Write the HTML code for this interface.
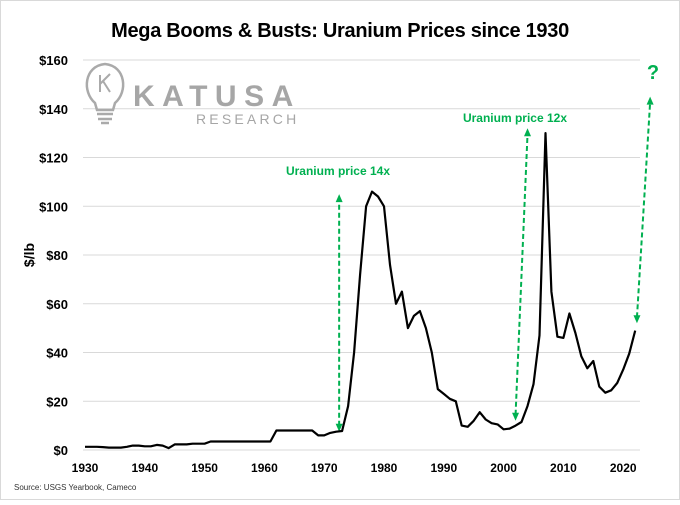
<!DOCTYPE html>
<html><head><meta charset="utf-8"><style>
body{margin:0;background:#fff;}
svg text{font-family:"Liberation Sans",Arial,sans-serif;}
</style></head><body>
<svg width="680" height="500" viewBox="0 0 680 500" xmlns="http://www.w3.org/2000/svg">
<rect x="0.5" y="0.5" width="679" height="499" fill="#fff" stroke="#d9d9d9"/>
<text x="340" y="37" text-anchor="middle" font-size="20" font-weight="bold" fill="#000" letter-spacing="-0.3">Mega Booms &amp; Busts: Uranium Prices since 1930</text>
<g id="grid"></g>
<g id="yticks"></g>
<g id="xticks"></g>
<text transform="translate(34,255) rotate(-90)" text-anchor="middle" font-size="14" font-weight="bold">$/lb</text>
<g fill="none" stroke="#aaa" stroke-width="2.5">
<path d="M95,103 C82,92 84,66 105,64 C126,66 128,92 115,103 L113,110 L97,110 Z"/>
<line x1="97" y1="114" x2="113" y2="114"/><line x1="98" y1="119" x2="112" y2="119"/><line x1="101" y1="123" x2="109" y2="123"/>
<path d="M100,75 L100,92 M100,84 L110,74 M103,81 L110,92" stroke-width="2"/>
<text x="133" y="106" font-size="30" font-weight="bold" fill="#a6a6a6" stroke="none" letter-spacing="7.5">KATUSA</text>
<text x="196" y="124" font-size="14" fill="#a6a6a6" stroke="none" letter-spacing="3.2">RESEARCH</text>
</g>
<g id="arrows"></g>
<text x="338" y="175" text-anchor="middle" font-size="12" font-weight="bold" fill="#00b050">Uranium price 14x</text>
<text x="515" y="122" text-anchor="middle" font-size="12" font-weight="bold" fill="#00b050">Uranium price 12x</text>
<text x="653" y="79" text-anchor="middle" font-size="20" font-weight="bold" fill="#00b050">?</text>
<path id="line" fill="none" stroke="#000" stroke-width="2.2" stroke-linejoin="round"/>
<text x="14" y="490" font-size="8" fill="#333">Source: USGS Yearbook, Cameco</text>
</svg>
<script>
const years=[];for(let y=1930;y<=2022;y++)years.push(y);
const prices=[1.3,1.3,1.3,1.2,1.0,1.0,1.0,1.3,1.8,1.8,1.5,1.5,2.1,1.8,0.8,2.3,2.3,2.3,2.6,2.6,2.6,3.5,3.5,3.5,3.5,3.5,3.5,3.5,3.5,3.5,3.5,3.5,8,8,8,8,8,8,8,6,6,7,7.5,7.8,18,40,72,100,106,104,100,76,60,65,50,55,57,50,40,25,23,21,20,10,9.5,12,15.5,12.5,11,10.5,8.5,8.8,10,11.5,18,27,47,130,65,46.5,46,56,48,38.5,33.5,36.5,26,23.5,24.5,27.5,33,39.5,49];
const yTicks=[0,20,40,60,80,100,120,140,160];
const xTicks=[1930,1940,1950,1960,1970,1980,1990,2000,2010,2020];
const arrowsData=[[1972.5,7.5,1972.5,105],[2002,12,2004,132],[2022.3,52,2024.5,145]];
const NS="http://www.w3.org/2000/svg";
const X=y=>85+(y-1930)*5.98;
const Y=v=>450-v*2.4375;
function mk(t,a,p){const e=document.createElementNS(NS,t);for(const k in a)e.setAttribute(k,a[k]);p.appendChild(e);return e;}
const g=document.getElementById('grid'),yt=document.getElementById('yticks'),xt=document.getElementById('xticks');
yTicks.forEach(v=>{
 const l=mk('line',{x1:83,x2:640,y1:Y(v),y2:Y(v),stroke:'#d9d9d9','stroke-width':1},g);
 
 
 const t=mk('text',{x:68,y:Y(v)+5,'text-anchor':'end','font-size':13,'font-weight':'bold'},yt);
 t.textContent='$'+v;
 
 
});
xTicks.forEach(v=>{
 const t=mk('text',{x:X(v),y:472,'text-anchor':'middle','font-size':12,'font-weight':'bold'},xt);
 t.textContent=v;
 
 
});
document.getElementById('line').setAttribute('d',prices.map((p,i)=>(i?'L':'M')+X(years[i]).toFixed(1)+','+Y(p).toFixed(1)).join(''));
const ag=document.getElementById('arrows');
arrowsData.forEach(a=>{
 const x1=X(a[0]),y1=Y(a[1]),x2=X(a[2]),y2=Y(a[3]);
 const l=mk('line',{x1:x1,y1:y1-6,x2:x2,y2:y2+6,stroke:'#00b050','stroke-width':2,'stroke-dasharray':'5,3'},ag);
 
 
 [[x1,y1,1],[x2,y2,-1]].forEach(([x,y,d])=>{
  const h=mk('polygon',{points:`${x},${y} ${x-3.5},${y-8*d} ${x+3.5},${y-8*d}`,fill:'#00b050'},ag);
  
  
 });
});
</script>
</body></html>
